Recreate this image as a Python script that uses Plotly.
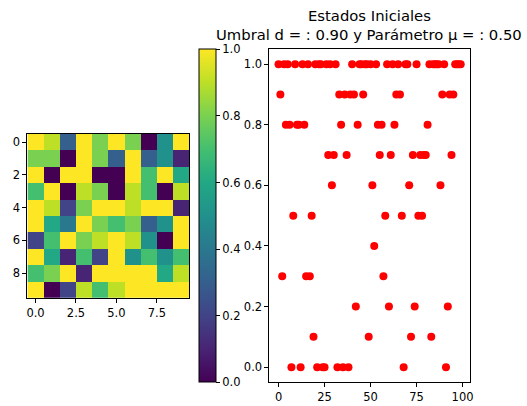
import plotly.graph_objects as go

# 10x10 initial states (rows top to bottom)
row_0 = [1.0, 0.9, 0.3, 1.0, 0.8, 1.0, 0.8, 0.0, 0.5, 1.0]
row_1 = [0.8, 0.8, 0.0, 1.0, 0.8, 0.3, 1.0, 0.3, 0.5, 0.1]
row_2 = [1.0, 0.0, 1.0, 1.0, 0.0, 0.0, 1.0, 0.7, 1.0, 0.6]
row_3 = [0.7, 1.0, 0.0, 0.9, 0.8, 0.0, 0.9, 0.7, 0.0, 0.9]
row_4 = [1.0, 0.9, 0.2, 0.8, 1.0, 1.0, 0.9, 1.0, 1.0, 0.1]
row_5 = [1.0, 0.6, 0.4, 1.0, 0.8, 0.7, 0.8, 0.3, 0.5, 1.0]
row_6 = [0.2, 0.7, 1.0, 0.8, 0.9, 1.0, 0.9, 0.5, 0.0, 1.0]
row_7 = [1.0, 0.6, 0.1, 0.7, 0.2, 1.0, 0.5, 0.7, 0.5, 0.7]
row_8 = [0.7, 0.8, 1.0, 0.1, 1.0, 1.0, 1.0, 1.0, 0.6, 0.9]
row_9 = [1.0, 0.0, 0.2, 0.9, 0.7, 0.9, 1.0, 1.0, 1.0, 1.0]
grid_rows = [row_0, row_1, row_2, row_3, row_4, row_5, row_6, row_7, row_8, row_9]

# scatter: the same states, flattened, against agent index
state_values = [v for r in grid_rows for v in r]
agent_index = list(range(len(state_values)))

heat_xticks = [0, 2.5, 5, 7.5]
heat_xticktext = ["0.0", "2.5", "5.0", "7.5"]
heat_yticks = [0, 2, 4, 6, 8]
cbar_ticks = [0, 0.2, 0.4, 0.6, 0.8, 1.0]
cbar_ticktext = ["0.0", "0.2", "0.4", "0.6", "0.8", "1.0"]
sc_xticks = [0, 25, 50, 75, 100]
sc_yticks = [0, 0.2, 0.4, 0.6, 0.8, 1.0]
sc_yticktext = ["0.0", "0.2", "0.4", "0.6", "0.8", "1.0"]

title_1 = "Estados Iniciales"
title_2 = "Umbral d = : 0.90 y Parámetro μ = : 0.50"

viridis = [
    [0.0, "#440154"], [0.1, "#482475"], [0.2, "#414487"], [0.3, "#355f8d"],
    [0.4, "#2a788e"], [0.5, "#21918c"], [0.6, "#22a884"], [0.7, "#44bf70"],
    [0.8, "#7ad151"], [0.9, "#bddf26"], [1.0, "#fde725"],
]

W, H = 527, 406
FONT = "DejaVu Sans"
TICK_FS = 11.5


def px_x(p):
    return p / W


def px_y(p):
    return 1 - p / H


fig = go.Figure()

fig.add_trace(go.Heatmap(
    z=grid_rows,
    x=list(range(10)),
    y=list(range(10)),
    colorscale=viridis,
    zmin=0, zmax=1,
    xaxis="x", yaxis="y",
    colorbar=dict(
        x=px_x(200), xanchor="left", xref="paper",
        y=px_y((49.3 + 382.3) / 2), yanchor="middle",
        len=(382.3 - 49.3) / H, lenmode="fraction",
        thickness=16.7, thicknessmode="pixels",
        xpad=0, ypad=0,
        outlinecolor="black", outlinewidth=1,
        tickvals=cbar_ticks, ticktext=cbar_ticktext,
        ticks="outside", ticklen=4, tickwidth=1, tickcolor="black",
        tickfont=dict(family=FONT, size=TICK_FS, color="black"),
    ),
    hoverinfo="skip",
))

fig.add_trace(go.Scatter(
    x=agent_index, y=state_values,
    mode="markers",
    marker=dict(color="red", size=8, line=dict(width=0)),
    xaxis="x2", yaxis="y2",
    showlegend=False,
))

axis_common = dict(
    showline=True, linecolor="black", linewidth=1, mirror=True,
    ticks="outside", ticklen=4, tickwidth=1, tickcolor="black",
    showgrid=False, zeroline=False,
    tickfont=dict(family=FONT, size=TICK_FS, color="black"),
)

fig.update_layout(
    width=W, height=H,
    margin=dict(l=0, r=0, t=0, b=0),
    paper_bgcolor="white", plot_bgcolor="white",
    showlegend=False,
    xaxis=dict(domain=[px_x(26.7), px_x(190)], range=[-0.5, 9.5],
               tickvals=heat_xticks, ticktext=heat_xticktext,
               anchor="y", **axis_common),
    yaxis=dict(domain=[px_y(297.7), px_y(134)], range=[9.5, -0.5],
               tickvals=heat_yticks, anchor="x", **axis_common),
    xaxis2=dict(domain=[px_x(271), px_x(473.3)], range=[-4.95, 103.95],
                tickvals=sc_xticks, anchor="y2", **axis_common),
    yaxis2=dict(domain=[px_y(382.3), px_y(49)], range=[-0.05, 1.05],
                tickvals=sc_yticks, ticktext=sc_yticktext,
                anchor="x2", **axis_common),
    annotations=[
        dict(text=title_1, x=px_x(372), y=px_y(15.5), xref="paper", yref="paper",
             xanchor="center", yanchor="middle", showarrow=False, borderpad=0,
             font=dict(family=FONT, size=14.8, color="black")),
        dict(text=title_2, x=px_x(372), y=px_y(34), xref="paper", yref="paper",
             xanchor="center", yanchor="middle", showarrow=False, borderpad=0,
             font=dict(family=FONT, size=14.8, color="black")),
    ],
)

fig.write_html("out.html")
